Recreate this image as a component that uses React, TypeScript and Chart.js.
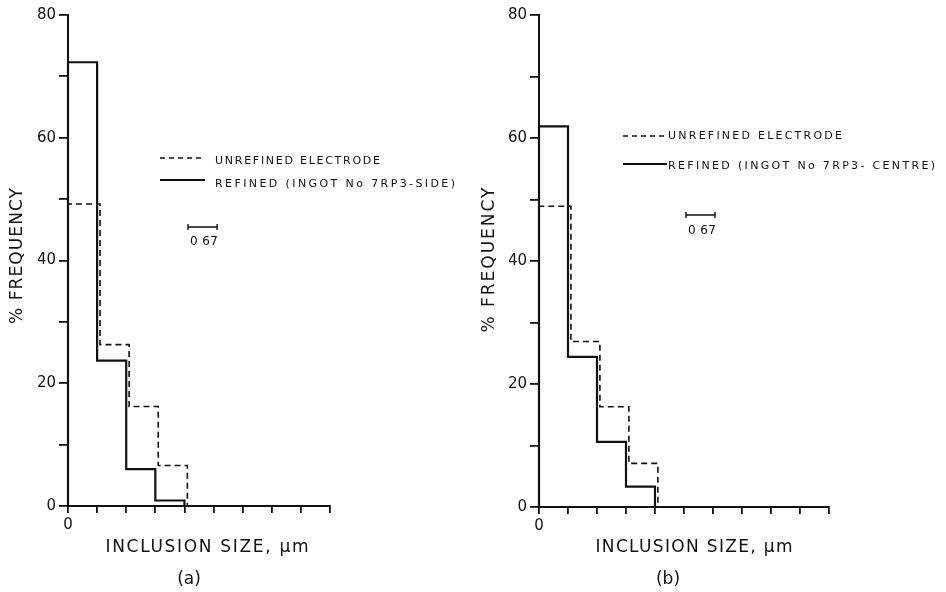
import { useEffect, useRef } from "react";
import { Chart, registerables } from "chart.js";

Chart.register(...registerables);

// Each bin is one 0.67 µm size class; x-axis runs in bin units.
const BIN_WIDTH_LABEL = "0 67";
const X_TICK_LABELS = ["0"];
const Y_TICK_LABELS = ["0", "20", "40", "60", "80"];

// Panel (a): ingot 7RP3 side
const UNREFINED_A = [49.2, 26.3, 16.2, 6.6];
const REFINED_A = [72.3, 23.7, 6.0, 0.9];
// Panel (b): ingot 7RP3 centre
const UNREFINED_B = [48.9, 26.9, 16.3, 7.1];
const REFINED_B = [61.9, 24.4, 10.6, 3.3];

const LEGEND_UNREFINED = "UNREFINED ELECTRODE";
const LEGEND_REFINED_A = "REFINED (INGOT No 7RP3-SIDE)";
const LEGEND_REFINED_B = "REFINED (INGOT No 7RP3- CENTRE)";
const X_TITLE = "INCLUSION SIZE, µm";
const Y_TITLE = "% FREQUENCY";

const FONT = '"DejaVu Sans", "Liberation Sans", sans-serif';
const INK = "#111";
const DASH_SHIFT = 0.1; // small drafting offset of the dashed outline
const CW = 473;
const CH = 592;
const Y_AXIS_W = 30;
const X_AXIS_H = 30;

function stepPoints(values: number[], shift: number) {
  const pts = [{ x: 0, y: 0 }, { x: 0, y: values[0] }];
  for (let i = 1; i < values.length; i++) pts.push({ x: i + shift, y: values[i] });
  pts.push({ x: values.length + shift, y: 0 });
  return pts;
}

function spaced(
  ctx: CanvasRenderingContext2D,
  text: string,
  x: number,
  y: number,
  width: number,
  size: number,
  align: "left" | "center" = "left",
  rotate = false
) {
  ctx.save();
  ctx.font = `${size}px ${FONT}`;
  (ctx as any).letterSpacing = "0px";
  const w0 = ctx.measureText(text).width;
  const ls = text.length > 1 ? (width - w0) / (text.length - 1) : 0;
  (ctx as any).letterSpacing = `${ls}px`;
  ctx.fillStyle = INK;
  ctx.textBaseline = "middle";
  ctx.textAlign = "left";
  if (rotate) {
    ctx.translate(x, y);
    ctx.rotate(-Math.PI / 2);
    ctx.fillText(text, -width / 2, 0);
  } else {
    const sx = align === "center" ? x - width / 2 : x;
    ctx.fillText(text, sx, y);
  }
  ctx.restore();
}

type Panel = {
  unrefined: number[];
  refined: number[];
  xMax: number;
  refinedLabel: string;
  tag: string;
  padding: { left: number; right: number; top: number; bottom: number };
  ann: any;
};

const PANEL_A: Panel = {
  unrefined: UNREFINED_A,
  refined: REFINED_A,
  xMax: 9,
  refinedLabel: LEGEND_REFINED_A,
  tag: "(a)",
  padding: { left: 68 - Y_AXIS_W, right: CW - 330, top: 15, bottom: CH - 506 - X_AXIS_H },
  ann: {
    yTitle: [18, 256, 136],
    xTitle: [207, 548, 203],
    tag: [189, 580],
    leg1: { line: [160, 205, 158], text: [215, 161, 165] },
    leg2: { line: [160, 205, 180], text: [215, 184, 240] },
    bar: [188, 227],
    barText: [190, 242, 28],
  },
};

const PANEL_B: Panel = {
  unrefined: UNREFINED_B,
  refined: REFINED_B,
  xMax: 10,
  refinedLabel: LEGEND_REFINED_B,
  tag: "(b)",
  padding: { left: 66 - Y_AXIS_W, right: CW - 356, top: 15, bottom: CH - 507 - X_AXIS_H },
  ann: {
    yTitle: [17, 260, 145],
    xTitle: [221, 548, 197],
    tag: [195, 580],
    leg1: { line: [150, 194, 136], text: [195, 136, 174] },
    leg2: { line: [150, 194, 164], text: [195, 166, 267] },
    bar: [213, 215],
    barText: [215, 231, 28],
  },
};

function annotations(p: Panel) {
  return {
    id: "annot",
    afterDraw(chart: any) {
      const ctx: CanvasRenderingContext2D = chart.ctx;
      const a = p.ann;
      spaced(ctx, Y_TITLE, a.yTitle[0], a.yTitle[1], a.yTitle[2], 17, "left", true);
      spaced(ctx, X_TITLE, a.xTitle[0], a.xTitle[1], a.xTitle[2], 17, "center");
      ctx.save();
      ctx.font = `17px ${FONT}`;
      ctx.fillStyle = INK;
      ctx.textAlign = "center";
      ctx.textBaseline = "middle";
      ctx.fillText(p.tag, a.tag[0], a.tag[1]);
      ctx.restore();

      // legend
      ctx.save();
      ctx.strokeStyle = INK;
      ctx.lineWidth = 1.6;
      ctx.setLineDash([5, 4]);
      ctx.beginPath();
      ctx.moveTo(a.leg1.line[0], a.leg1.line[2]);
      ctx.lineTo(a.leg1.line[1], a.leg1.line[2]);
      ctx.stroke();
      ctx.setLineDash([]);
      ctx.lineWidth = 2.2;
      ctx.beginPath();
      ctx.moveTo(a.leg2.line[0], a.leg2.line[2]);
      ctx.lineTo(a.leg2.line[1], a.leg2.line[2]);
      ctx.stroke();
      ctx.restore();
      spaced(ctx, LEGEND_UNREFINED, a.leg1.text[0], a.leg1.text[1], a.leg1.text[2], 11);
      spaced(ctx, p.refinedLabel, a.leg2.text[0], a.leg2.text[1], a.leg2.text[2], 11);

      // scale bar: one bin width
      const xs = chart.scales.x;
      const bw = xs.getPixelForValue(1) - xs.getPixelForValue(0);
      ctx.save();
      ctx.strokeStyle = INK;
      ctx.lineWidth = 1.4;
      ctx.beginPath();
      ctx.moveTo(a.bar[0], a.bar[1]);
      ctx.lineTo(a.bar[0] + bw, a.bar[1]);
      ctx.moveTo(a.bar[0], a.bar[1] - 3);
      ctx.lineTo(a.bar[0], a.bar[1] + 3);
      ctx.moveTo(a.bar[0] + bw, a.bar[1] - 3);
      ctx.lineTo(a.bar[0] + bw, a.bar[1] + 3);
      ctx.stroke();
      ctx.restore();
      spaced(ctx, BIN_WIDTH_LABEL, a.barText[0], a.barText[1], a.barText[2], 12);
    },
  };
}

function makeChart(canvas: HTMLCanvasElement, p: Panel) {
  return new Chart(canvas, {
    type: "line",
    data: {
      datasets: [
        {
          label: LEGEND_UNREFINED,
          data: stepPoints(p.unrefined, DASH_SHIFT),
          borderColor: INK,
          borderWidth: 1.6,
          borderDash: [6, 4],
          stepped: true,
          pointRadius: 0,
          fill: false,
          clip: false,
        } as any,
        {
          label: p.refinedLabel,
          data: stepPoints(p.refined, 0),
          borderColor: INK,
          borderWidth: 2.2,
          stepped: true,
          pointRadius: 0,
          fill: false,
          clip: false,
        } as any,
      ],
    },
    options: {
      animation: false,
      responsive: false,
      events: [],
      layout: { padding: p.padding },
      plugins: { legend: { display: false }, tooltip: { enabled: false } },
      scales: {
        x: {
          type: "linear",
          min: 0,
          max: p.xMax,
          afterFit: (s: any) => {
            s.height = X_AXIS_H;
          },
          border: { display: true, color: INK, width: 2 },
          grid: { drawOnChartArea: false, drawTicks: true, tickLength: 7, color: INK, lineWidth: 1.8 },
          ticks: {
            stepSize: 1,
            autoSkip: false,
            maxRotation: 0,
            color: INK,
            padding: 3,
            font: { family: FONT, size: 15 },
            callback: (v: any) => (Number(v) === 0 ? X_TICK_LABELS[0] : ""),
          },
        },
        y: {
          type: "linear",
          min: 0,
          max: 80,
          afterFit: (s: any) => {
            s.width = Y_AXIS_W;
          },
          border: { display: true, color: INK, width: 2 },
          grid: { drawOnChartArea: false, drawTicks: true, tickLength: 9, color: INK, lineWidth: 1.8 },
          ticks: {
            stepSize: 10,
            autoSkip: false,
            color: INK,
            padding: 3,
            font: { family: FONT, size: 15 },
            callback: (v: any) => {
              const n = Number(v);
              return n % 20 === 0 ? Y_TICK_LABELS[n / 20] : "";
            },
          },
        },
      },
    } as any,
    plugins: [annotations(p)],
  });
}

export default function App() {
  const refA = useRef<HTMLCanvasElement>(null);
  const refB = useRef<HTMLCanvasElement>(null);
  useEffect(() => {
    const ca = makeChart(refA.current!, PANEL_A);
    const cb = makeChart(refB.current!, PANEL_B);
    return () => {
      ca.destroy();
      cb.destroy();
    };
  }, []);
  return (
    <div
      style={{
        position: "fixed",
        left: 0,
        top: 0,
        width: 946,
        height: 592,
        background: "#fff",
      }}
    >
      <canvas
        ref={refA}
        width={CW}
        height={CH}
        style={{ position: "absolute", left: 0, top: 0, width: CW, height: CH }}
      />
      <canvas
        ref={refB}
        width={CW}
        height={CH}
        style={{ position: "absolute", left: CW, top: 0, width: CW, height: CH }}
      />
    </div>
  );
}
